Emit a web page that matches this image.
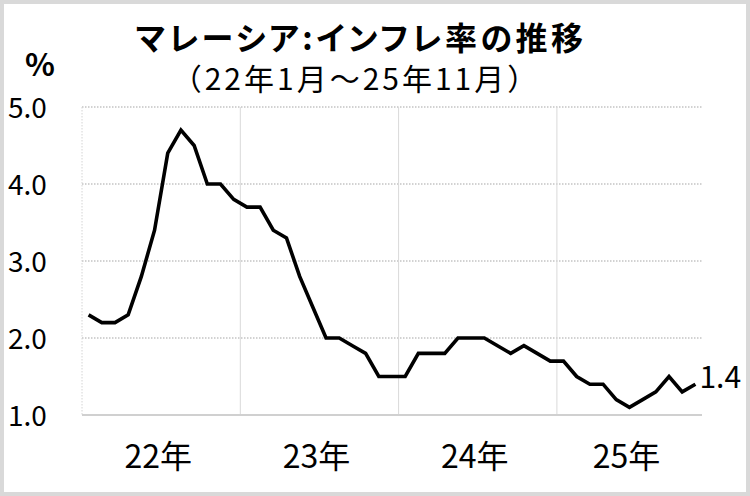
<!DOCTYPE html>
<html>
<head>
<meta charset="utf-8">
<script src="https://cdn.jsdelivr.net/npm/d3@7"></script>
<style>
  body { margin: 0; background: #fff; }
  text { font-family: "Noto Sans CJK JP", sans-serif; font-feature-settings: "palt"; }
  text.sub { font-feature-settings: normal; }
</style>
</head>
<body>
<div id="chart"></div>
<script>
// months Jan 2022 .. Nov 2025
var months = d3.range(47);
var inflation = [
  2.3, 2.2, 2.2, 2.3, 2.8, 3.4, 4.4, 4.7, 4.5, 4.0, 4.0, 3.8,
  3.7, 3.7, 3.4, 3.3, 2.8, 2.4, 2.0, 2.0, 1.9, 1.8, 1.5, 1.5,
  1.5, 1.8, 1.8, 1.8, 2.0, 2.0, 2.0, 1.9, 1.8, 1.9, 1.8, 1.7,
  1.7, 1.5, 1.4, 1.4, 1.2, 1.1, 1.2, 1.3, 1.5, 1.3, 1.4
];
var yearLabels = ["22年", "23年", "24年", "25年"];
var yTicks = [1, 2, 3, 4, 5];

var width = 750,
  height = 496;
var plot = { left: 82, right: 702, top: 107, bottom: 415 };

var svg = d3
  .select("#chart")
  .append("svg")
  .attr("width", width)
  .attr("height", height);

// outer frame
svg
  .append("rect")
  .attr("x", 2)
  .attr("y", 2)
  .attr("width", width - 4)
  .attr("height", height - 4)
  .attr("fill", "#fff")
  .attr("stroke", "#d9d9d9")
  .attr("stroke-width", 4);

var x = d3
  .scaleBand()
  .domain(months)
  .range([plot.left, plot.right]);
var y = d3
  .scaleLinear()
  .domain([1, 5])
  .range([plot.bottom, plot.top]);

// horizontal dotted grid
svg
  .append("g")
  .selectAll("line")
  .data(yTicks.slice(1))
  .enter()
  .append("line")
  .attr("x1", plot.left)
  .attr("x2", plot.right)
  .attr("y1", function (d) { return y(d); })
  .attr("y2", function (d) { return y(d); })
  .attr("stroke", "#c4c4c4")
  .attr("stroke-width", 1.5)
  .attr("stroke-dasharray", "1.5,1.5");

// left edge
svg
  .append("line")
  .attr("x1", plot.left)
  .attr("x2", plot.left)
  .attr("y1", plot.top)
  .attr("y2", plot.bottom)
  .attr("stroke", "#d4d4d4")
  .attr("stroke-width", 1)
  .attr("stroke-dasharray", "1.5,1.5");

// year separators
svg
  .append("g")
  .selectAll("line")
  .data([12, 24, 36])
  .enter()
  .append("line")
  .attr("x1", function (d) { return x(d); })
  .attr("x2", function (d) { return x(d); })
  .attr("y1", plot.top)
  .attr("y2", plot.bottom)
  .attr("stroke", "#d9d9d9")
  .attr("stroke-width", 1);

// bottom axis line
svg
  .append("line")
  .attr("x1", plot.left)
  .attr("x2", plot.right)
  .attr("y1", plot.bottom)
  .attr("y2", plot.bottom)
  .attr("stroke", "#d0d0d0")
  .attr("stroke-width", 2);

// y tick labels
svg
  .append("g")
  .selectAll("text")
  .data(yTicks)
  .enter()
  .append("text")
  .attr("x", 8)
  .attr("y", function (d) { return y(d) + 11; })
  .attr("font-size", 28)
  .text(function (d) { return d3.format(".1f")(d); });

svg
  .append("text")
  .attr("x", 40)
  .attr("y", 76)
  .attr("text-anchor", "middle")
  .attr("font-size", 31)
  .attr("font-weight", "bold")
  .text("%");

// year labels
svg
  .append("g")
  .selectAll("text")
  .data(yearLabels)
  .enter()
  .append("text")
  .attr("x", function (d, i) {
    var first = i * 12,
      last = Math.min(first + 11, months.length - 1);
    return (x(first) + x(last) + x.bandwidth()) / 2 - 3;
  })
  .attr("y", 468)
  .attr("text-anchor", "middle")
  .attr("font-size", 32)
  .text(function (d) { return d; });

// line
var line = d3
  .line()
  .x(function (d, i) { return x(i) + x.bandwidth() / 2; })
  .y(function (d) { return y(d); });

svg
  .append("path")
  .datum(inflation)
  .attr("d", line)
  .attr("fill", "none")
  .attr("stroke", "#000")
  .attr("stroke-width", 3.6)
  .attr("stroke-linejoin", "miter");

// last value label
var lastIndex = inflation.length - 1;
svg
  .append("text")
  .attr("x", x(lastIndex) + x.bandwidth() / 2 + 4)
  .attr("y", y(inflation[lastIndex]) + 4)
  .attr("font-size", 30)
  .text(d3.format(".1f")(inflation[lastIndex]));

// titles
svg
  .append("text")
  .attr("x", 361)
  .attr("y", 50)
  .attr("text-anchor", "middle")
  .attr("font-size", 32)
  .attr("font-weight", "bold")
  .attr("letter-spacing", 3.5)
  .text("マレーシア:インフレ率の推移");

svg
  .append("text")
  .attr("class", "sub")
  .attr("x", 356)
  .attr("y", 90)
  .attr("text-anchor", "middle")
  .attr("font-size", 30)
  .attr("letter-spacing", 3)
  .text("（22年1月～25年11月）");
</script>
</body>
</html>
